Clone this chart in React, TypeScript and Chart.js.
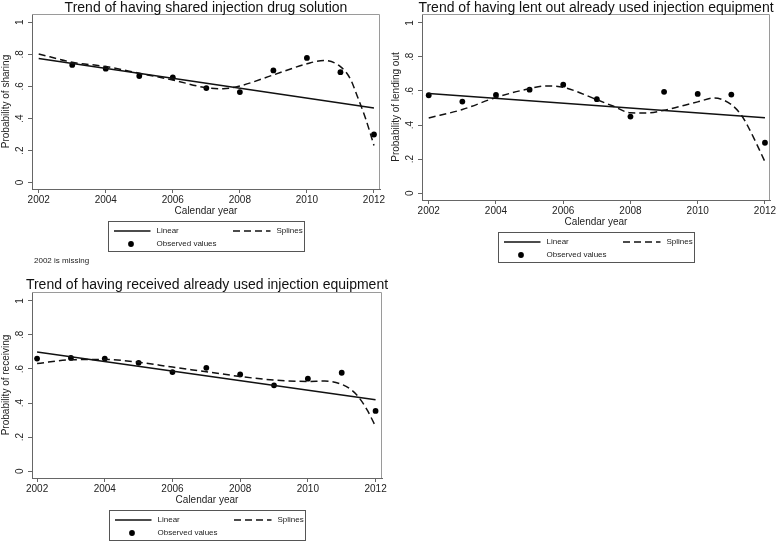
import React, { useEffect, useRef } from "react";
import { Chart, registerables } from "chart.js";

Chart.register(...registerables);

const FONT = "'Liberation Sans', Arial, Helvetica, sans-serif";

// ---- Data ----
const years = [2002, 2003, 2004, 2005, 2006, 2007, 2008, 2009, 2010, 2011, 2012];
const xTicks = [2002, 2004, 2006, 2008, 2010, 2012];
const yTicks = [0, 0.2, 0.4, 0.6, 0.8, 1];
const yTickLabels = ["0", ".2", ".4", ".6", ".8", "1"];
const linearYears = [2002, 2012];

// Panel 1: shared injection drug solution (2002 missing)
const sharingObserved = [null, 0.734, 0.711, 0.665, 0.657, 0.59, 0.565, 0.70, 0.778, 0.689, 0.30];
const sharingLinear = [0.774, 0.466];
const sharingSplineX = [2002, 2003, 2004, 2005, 2006, 2007, 2007.5, 2008, 2009, 2010, 2010.5, 2011, 2011.3, 2011.5, 2011.75, 2012];
const sharingSplineY = [0.803, 0.751, 0.724, 0.682, 0.64, 0.592, 0.586, 0.603, 0.672, 0.741, 0.762, 0.724, 0.645, 0.54, 0.4, 0.232];

// Panel 2: lent out already used injection equipment
const lendingObserved = [0.575, 0.538, 0.577, 0.608, 0.637, 0.552, 0.45, 0.595, 0.583, 0.579, 0.296];
const lendingLinear = [0.585, 0.443];
const lendingSplineX = [2002, 2003, 2004, 2005, 2005.5, 2006, 2007, 2007.5, 2008, 2008.5, 2009, 2010, 2010.5, 2011, 2011.3, 2011.5, 2011.75, 2012];
const lendingSplineY = [0.442, 0.491, 0.562, 0.614, 0.63, 0.622, 0.549, 0.51, 0.472, 0.471, 0.487, 0.536, 0.559, 0.52, 0.458, 0.39, 0.29, 0.184];

// Panel 3: received already used injection equipment
const receivingObserved = [0.661, 0.665, 0.661, 0.636, 0.582, 0.607, 0.568, 0.504, 0.543, 0.578, 0.354];
const receivingLinear = [0.7, 0.42];
const receivingSplineX = [2002, 2003, 2004, 2005, 2006, 2007, 2008, 2009, 2010, 2010.5, 2011, 2011.3, 2011.5, 2011.75, 2012];
const receivingSplineY = [0.632, 0.654, 0.656, 0.64, 0.611, 0.584, 0.556, 0.535, 0.527, 0.529, 0.51, 0.475, 0.435, 0.36, 0.263];

const legendLabels = ["Linear", "Splines", "Observed values"];

// ---- Plugin: title, plot frame, legend box, note ----
const stataDecor = {
  id: "stataDecor",
  afterDraw(chart: any, _args: any, opts: any) {
    const ctx = chart.ctx;
    const ca = chart.chartArea;
    ctx.save();
    // frame top/right
    ctx.strokeStyle = "#9a9a9a";
    ctx.lineWidth = 1;
    ctx.beginPath();
    ctx.moveTo(ca.left, ca.top + 0.5);
    ctx.lineTo(ca.right - 0.5, ca.top + 0.5);
    ctx.lineTo(ca.right - 0.5, ca.bottom);
    ctx.stroke();

    // title
    ctx.fillStyle = "#111";
    ctx.font = `14px ${FONT}`;
    ctx.textAlign = "center";
    ctx.textBaseline = "alphabetic";
    ctx.fillText(opts.title, (ca.left + ca.right) / 2, opts.titleBaseline);

    // legend
    const ds = chart.data.datasets;
    const cx = (ca.left + ca.right) / 2;
    const L = Math.round(cx - 98) + 0.5;
    const T = Math.round(ca.bottom + 32) + 0.5;
    ctx.strokeStyle = "#555";
    ctx.lineWidth = 1;
    ctx.strokeRect(L, T, 196, 30);
    const row1 = T + 9.5;
    const row2 = T + 22.5;
    ctx.strokeStyle = ds[0].borderColor;
    ctx.lineWidth = ds[0].borderWidth;
    ctx.beginPath();
    ctx.moveTo(L + 5.5, row1);
    ctx.lineTo(L + 42, row1);
    ctx.stroke();
    ctx.strokeStyle = ds[1].borderColor;
    ctx.lineWidth = ds[1].borderWidth;
    ctx.setLineDash(ds[1].borderDash);
    ctx.beginPath();
    ctx.moveTo(L + 124.5, row1);
    ctx.lineTo(L + 162, row1);
    ctx.stroke();
    ctx.setLineDash([]);
    ctx.fillStyle = ds[2].backgroundColor;
    ctx.beginPath();
    ctx.arc(L + 22.5, row2, ds[2].pointRadius, 0, Math.PI * 2);
    ctx.fill();
    ctx.fillStyle = "#222";
    ctx.font = `8px ${FONT}`;
    ctx.textAlign = "left";
    ctx.textBaseline = "middle";
    ctx.fillText(ds[0].label, L + 48, row1);
    ctx.fillText(ds[1].label, L + 168, row1);
    ctx.fillText(ds[2].label, L + 48, row2);

    if (opts.note) {
      ctx.textBaseline = "alphabetic";
      ctx.fillText(opts.note, 34, opts.noteBaseline);
    }
    ctx.restore();
  },
};

type PanelProps = {
  left: number;
  top: number;
  width: number;
  height: number;
  title: string;
  titleBaseline: number;
  yTitle: string;
  observed: (number | null)[];
  linear: number[];
  splineX: number[];
  splineY: number[];
  xMin: number;
  xMax: number;
  padding: { top: number; right: number; bottom: number; left: number };
  note?: string;
  noteBaseline?: number;
};

function Panel(p: PanelProps) {
  const ref = useRef<HTMLCanvasElement | null>(null);
  useEffect(() => {
    if (!ref.current) return;
    const obsData = years
      .map((x, i) => ({ x, y: p.observed[i] }))
      .filter((d) => d.y !== null);
    const linData = linearYears.map((x, i) => ({ x, y: p.linear[i] }));
    const splData = p.splineX.map((x, i) => ({ x, y: p.splineY[i] }));
    const axisColor = "#666";
    const chart = new Chart(ref.current, {
      type: "scatter",
      data: {
        datasets: [
          {
            label: legendLabels[0],
            data: linData,
            showLine: true,
            borderColor: "#111",
            borderWidth: 1.5,
            pointRadius: 0,
            backgroundColor: "#111",
          },
          {
            label: legendLabels[1],
            data: splData,
            showLine: true,
            borderColor: "#111",
            borderWidth: 1.5,
            borderDash: [7, 4],
            cubicInterpolationMode: "monotone",
            pointRadius: 0,
            backgroundColor: "#111",
          },
          {
            label: legendLabels[2],
            data: obsData,
            showLine: false,
            pointRadius: 2.9,
            pointBorderWidth: 0,
            backgroundColor: "#000",
            borderColor: "#000",
          },
        ],
      } as any,
      options: {
        responsive: false,
        animation: false,
        devicePixelRatio: 1,
        layout: { padding: p.padding },
        font: { family: FONT },
        plugins: {
          legend: { display: false },
          title: { display: false },
          tooltip: { enabled: false },
          stataDecor: {
            title: p.title,
            titleBaseline: p.titleBaseline,
            note: p.note,
            noteBaseline: p.noteBaseline,
          },
        } as any,
        scales: {
          x: {
            type: "linear",
            min: p.xMin,
            max: p.xMax,
            afterBuildTicks: (s: any) => {
              s.ticks = xTicks.map((v) => ({ value: v }));
            },
            afterFit: (s: any) => {
              s.height = 28;
            },
            ticks: {
              font: { family: FONT, size: 10 },
              color: "#222",
              padding: 1,
              maxRotation: 0,
              minRotation: 0,
              callback: (v: any) => String(v),
            },
            grid: { drawOnChartArea: false, drawTicks: true, tickLength: 4, tickColor: axisColor },
            border: { display: true, color: axisColor, width: 1 },
            title: {
              display: true,
              text: "Calendar year",
              font: { family: FONT, size: 10 },
              color: "#222",
              padding: 0,
            },
          },
          y: {
            type: "linear",
            min: -0.04,
            max: 1.052,
            afterBuildTicks: (s: any) => {
              s.ticks = yTicks.map((v) => ({ value: v }));
            },
            afterFit: (s: any) => {
              s.width = 32;
            },
            ticks: {
              font: { family: FONT, size: 10 },
              color: "#222",
              padding: 4,
              minRotation: 90,
              maxRotation: 90,
              crossAlign: "center",
              callback: (_v: any, i: number) => yTickLabels[i],
            },
            grid: { drawOnChartArea: false, drawTicks: true, tickLength: 4, tickColor: axisColor },
            border: { display: true, color: axisColor, width: 1 },
            title: {
              display: true,
              text: p.yTitle,
              font: { family: FONT, size: 10 },
              color: "#222",
              padding: 0,
            },
          },
        } as any,
      },
      plugins: [stataDecor],
    });
    return () => chart.destroy();
  }, []);
  return (
    <canvas
      ref={ref}
      width={p.width}
      height={p.height}
      style={{ position: "absolute", left: p.left, top: p.top, width: p.width, height: p.height }}
    />
  );
}

export default function App() {
  return (
    <div style={{ position: "absolute", left: 0, top: 0, width: 778, height: 542, background: "#fff" }}>
      <Panel
        left={0}
        top={0}
        width={389}
        height={268}
        title="Trend of having shared injection drug solution"
        titleBaseline={11.7}
        yTitle="Probability of sharing"
        observed={sharingObserved}
        linear={sharingLinear}
        splineX={sharingSplineX}
        splineY={sharingSplineY}
        xMin={2001.8}
        xMax={2012.18}
        padding={{ top: 14, right: 9, bottom: 51, left: 0 }}
        note="2002 is missing"
        noteBaseline={263.3}
      />
      <Panel
        left={390}
        top={0}
        width={388}
        height={268}
        title="Trend of having lent out already used injection equipment"
        titleBaseline={11.7}
        yTitle="Probability of lending out"
        observed={lendingObserved}
        linear={lendingLinear}
        splineX={lendingSplineX}
        splineY={lendingSplineY}
        xMin={2001.8}
        xMax={2012.15}
        padding={{ top: 14, right: 8, bottom: 40, left: 0 }}
      />
      <Panel
        left={0}
        top={268}
        width={389}
        height={274}
        title="Trend of having received already used injection equipment"
        titleBaseline={20.7}
        yTitle="Probability of receiving"
        observed={receivingObserved}
        linear={receivingLinear}
        splineX={receivingSplineX}
        splineY={receivingSplineY}
        xMin={2001.85}
        xMax={2012.19}
        padding={{ top: 24, right: 7, bottom: 36, left: 0 }}
      />
    </div>
  );
}
